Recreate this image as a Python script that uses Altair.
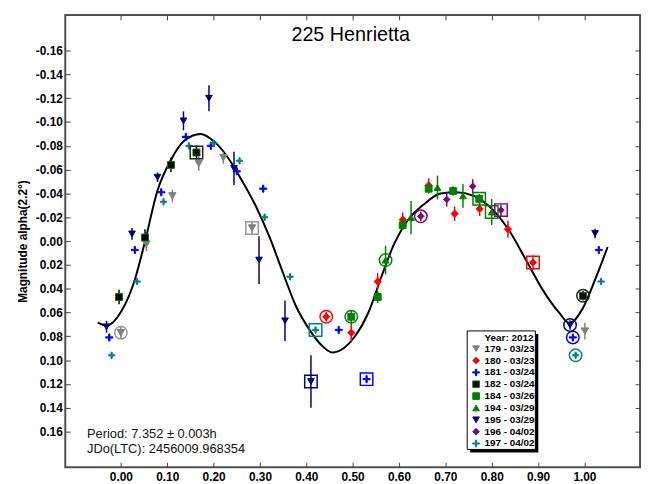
import altair as alt
import pandas as pd

# ---------------- data ----------------
SESSIONS = ["179 - 03/23", "180 - 03/23", "181 - 03/24", "182 - 03/24", "184 - 03/26",
            "194 - 03/29", "195 - 03/29", "196 - 04/02", "197 - 04/02"]
LEGEND_TITLE = "Year: 2012"

P179 = [0.000, 0.055, 0.111, 0.168, 0.221, 0.283, 1.001]
M179 = [0.077, 0.0025, -0.038, -0.065, -0.070, -0.011, 0.0756]
E179 = [0.005, 0.006, 0.005, 0.006, 0.005, 0.006, 0.007]

P180 = [0.443, 0.497, 0.554, 0.608, 0.664, 0.720, 0.774, 0.835, 0.889]
M180 = [0.0636, 0.077, 0.034, -0.018, -0.0467, -0.023, -0.027, -0.010, 0.018]
E180 = [0.004, 0.008, 0.007, 0.006, 0.006, 0.006, 0.006, 0.007, 0.006]

P181 = [-0.025, 0.030, 0.087, 0.140, 0.194, 0.250, 0.307, 0.470, 0.530, 0.975, 1.031]
M181 = [0.081, 0.0075, -0.041, -0.0875, -0.080, -0.0586, -0.044, 0.0747, 0.116, 0.081, 0.0075]
E181 = [0.002] * 11

P182 = [-0.004, 0.052, 0.108, 0.163, 0.997]
M182 = [0.047, -0.003, -0.064, -0.0744, 0.046]
E182 = [0.006, 0.007, 0.006, 0.006, 0.004]

P184 = [0.497, 0.554, 0.608, 0.664, 0.717, 0.773]
M184 = [0.0636, 0.047, -0.0133, -0.044, -0.042, -0.0355]
E184 = [0.005, 0.005, 0.004, 0.004, 0.004, 0.004]

P194 = [0.571, 0.626, 0.683, 0.738, 0.800]
M194 = [0.016, -0.0197, -0.045, -0.038, -0.0244]
E194 = [0.012, 0.014, 0.010, 0.010, 0.011]

P195 = [-0.031, 0.024, 0.079, 0.135, 0.190, 0.244, 0.298, 0.354, 0.410, 0.969, 1.023]
M195 = [0.072, -0.006, -0.0536, -0.101, -0.120, -0.061, 0.016, 0.067, 0.118, 0.0706, -0.0064]
E195 = [0.005, 0.005, 0.004, 0.008, 0.011, 0.014, 0.020, 0.017, 0.022, 0.004, 0.004]

P196 = [0.647, 0.703, 0.759, 0.820]
M196 = [-0.0208, -0.035, -0.046, -0.026]
E196 = [0.004, 0.006, 0.006, 0.005]

P197 = [-0.020, 0.035, 0.092, 0.147, 0.200, 0.256, 0.310, 0.365, 0.420, 0.981, 1.036]
M197 = [0.096, 0.034, -0.033, -0.080, -0.082, -0.0675, -0.020, 0.030, 0.0747, 0.096, 0.034]
E197 = [0.002] * 11

# enclosed (first / last) points
ENC_SESSION = [0, 0, 1, 1, 2, 2, 3, 3, 4, 4, 5, 5, 6, 6, 7, 7, 8, 8]
ENC_PHASE = [0.000, 0.283, 0.443, 0.889, 0.530, 0.975, 0.163, 0.997, 0.497, 0.773,
             0.571, 0.800, 0.410, 0.969, 0.647, 0.820, 0.420, 0.981]
ENC_MAG = [0.077, -0.011, 0.0636, 0.018, 0.116, 0.081, -0.0744, 0.046, 0.0636, -0.0355,
           0.016, -0.0244, 0.118, 0.0706, -0.0208, -0.026, 0.0747, 0.096]
ENC_SHAPE = ["circle", "square", "circle", "square", "square", "circle", "square", "circle",
             "circle", "square", "circle", "square", "square", "circle", "circle", "square",
             "square", "circle"]

# fitted curve
CURVE_PHASE = [-0.050, -0.031, 0.001, 0.030, 0.051, 0.079, 0.107, 0.136, 0.172, 0.200, 0.228,
               0.257, 0.292, 0.321, 0.349, 0.378, 0.406, 0.434, 0.456, 0.484, 0.505, 0.534,
               0.562, 0.590, 0.619, 0.654, 0.690, 0.724, 0.761, 0.803, 0.839, 0.874, 0.910,
               0.945, 0.968, 0.995, 1.023, 1.050]
CURVE_MAG = [0.0686, 0.071, 0.059, 0.0325, 0.002, -0.0425, -0.0675, -0.084, -0.090, -0.084,
             -0.0717, -0.0536, -0.0286, -0.003, 0.026, 0.055, 0.074, 0.088, 0.0936, 0.089,
             0.080, 0.060, 0.030, 0.002, -0.0175, -0.031, -0.040, -0.041, -0.038, -0.026,
             -0.008, 0.016, 0.041, 0.060, 0.069, 0.0575, 0.0325, 0.005]

X_TICKS = [0.0, 0.1, 0.2, 0.3, 0.4, 0.5, 0.6, 0.7, 0.8, 0.9, 1.0]
Y_TICKS = [-0.16, -0.14, -0.12, -0.10, -0.08, -0.06, -0.04, -0.02, 0.0,
           0.02, 0.04, 0.06, 0.08, 0.10, 0.12, 0.14, 0.16]

TITLE = "225 Henrietta"
INFO = ["Period: 7.352 ± 0.003h", "JDo(LTC): 2456009.968354"]

# ---------------- styles ----------------
FILL = ["#808080", "#ff0000", "#0000ff", "#000000", "#008000", "#008000", "#000080", "#800080", "#008080"]
STROKE = ["#808080", "#ff0000", "#0000ff", "#008000", "#008000", "#008000", "#000080", "#800080", "#008080"]
ERRCOL = ["#808080", "#ff0000", "#0000ff", "#000000", "#008000", "#008000", "#000080", "#800080", "#008080"]
ENC_COL = ["#999999", "#ff0000", "#0000ff", "#202020", "#008000", "#008000", "#000080", "#800080", "#008080"]
PLUS = "M-1,-0.17L-0.17,-0.17L-0.17,-1L0.17,-1L0.17,-0.17L1,-0.17L1,0.17L0.17,0.17L0.17,1L-0.17,1L-0.17,0.17L-1,0.17Z"
SHAPES = ["triangle-down", "diamond", PLUS, "square", "square", "triangle-up", "triangle-down", "diamond", PLUS]
SIZES = [55, 42, 140, 30, 55, 55, 55, 42, 140]
STROKE_W = [1, 1, 0, 2.6, 1, 1, 1, 1, 0]

FONT = "Liberation Sans"

rows = []
for s, (P, M, E) in zip(SESSIONS, [(P179, M179, E179), (P180, M180, E180), (P181, M181, E181),
                                   (P182, M182, E182), (P184, M184, E184), (P194, M194, E194),
                                   (P195, M195, E195), (P196, M196, E196), (P197, M197, E197)]):
    for p, m, e in zip(P, M, E):
        rows.append({"session": s, "phase": p, "mag": m, "lo": m - e, "hi": m + e})
df = pd.DataFrame(rows)

enc_df = pd.DataFrame({
    "session": [SESSIONS[i] for i in ENC_SESSION],
    "phase": ENC_PHASE, "mag": ENC_MAG, "shape": ENC_SHAPE,
})
curve_df = pd.DataFrame({"phase": CURVE_PHASE, "mag": CURVE_MAG})
leg_df = pd.DataFrame({"session": SESSIONS, "row": list(range(len(SESSIONS)))})

xscale = alt.Scale(domain=[-0.12, 1.12], nice=False, zero=False)
yscale = alt.Scale(domain=[-0.19, 0.19], nice=False, zero=False, reverse=True)
fill_sc = alt.Scale(domain=SESSIONS, range=FILL)
stroke_sc = alt.Scale(domain=SESSIONS, range=STROKE)
shape_sc = alt.Scale(domain=SESSIONS, range=SHAPES)

LABEL_EXPR = "(datum.value < 0 ? '-' : '') + format(abs(datum.value), '.2f')"
common = dict(domain=False, grid=False, tickSize=5, offset=-5, tickColor="#404040", tickWidth=1,
              labelFont=FONT, labelFontSize=12, labelFontWeight="bold", labelColor="black",
              labelOverlap=False, labelFlush=False)

ax_bottom = alt.Axis(orient="bottom", values=X_TICKS, labelExpr=LABEL_EXPR, labelPadding=4,
                     title=None, **common)
ax_left = alt.Axis(orient="left", values=Y_TICKS, labelExpr=LABEL_EXPR, labelPadding=3,
                   title="Magnitude alpha(2.2°)", titleFont=FONT, titleFontSize=12,
                   titleFontWeight="bold", titleColor="black", titlePadding=6, **common)
ax_top = alt.Axis(orient="top", values=X_TICKS, labels=False, title=None, **common)
ax_right = alt.Axis(orient="right", values=Y_TICKS, labels=False, title=None, **common)

line = alt.Chart(curve_df).mark_line(color="black", strokeWidth=2, interpolate="monotone").encode(
    x=alt.X("phase:Q", scale=xscale, axis=ax_bottom),
    y=alt.Y("mag:Q", scale=yscale, axis=ax_left),
)

errs = alt.Chart(df).mark_rule(strokeWidth=1.5).encode(
    x=alt.X("phase:Q", scale=xscale, axis=None),
    y=alt.Y("lo:Q", scale=yscale, axis=None),
    y2="hi:Q",
    color=alt.Color("session:N", scale=alt.Scale(domain=SESSIONS, range=ERRCOL), legend=None),
)

points = alt.Chart(df).mark_point(filled=True, opacity=1).encode(
    x=alt.X("phase:Q", scale=xscale, axis=ax_top),
    y=alt.Y("mag:Q", scale=yscale, axis=ax_right),
    fill=alt.Fill("session:N", scale=fill_sc, legend=None),
    stroke=alt.Stroke("session:N", scale=stroke_sc, legend=None),
    shape=alt.Shape("session:N", scale=shape_sc, legend=None),
    size=alt.Size("session:N", scale=alt.Scale(domain=SESSIONS, range=SIZES), legend=None),
    strokeWidth=alt.StrokeWidth("session:N", scale=alt.Scale(domain=SESSIONS, range=STROKE_W), legend=None),
)

encl = alt.Chart(enc_df).mark_point(filled=False, strokeWidth=1.5, size=160, opacity=1).encode(
    x=alt.X("phase:Q", scale=xscale, axis=None),
    y=alt.Y("mag:Q", scale=yscale, axis=None),
    shape=alt.Shape("shape:N", scale=alt.Scale(domain=["circle", "square"], range=["circle", "square"]), legend=None),
    color=alt.Color("session:N", scale=alt.Scale(domain=SESSIONS, range=ENC_COL), legend=None),
)

title = alt.Chart(pd.DataFrame({"t": [TITLE]})).mark_text(
    font=FONT, fontSize=20, color="black", align="center", baseline="middle").encode(
    text="t:N", x=alt.value(289), y=alt.value(20))

info1 = alt.Chart(pd.DataFrame({"t": [INFO[0]]})).mark_text(
    font=FONT, fontSize=13, color="#111111", align="left", baseline="middle").encode(
    text="t:N", x=alt.value(22), y=alt.value(424))
info2 = alt.Chart(pd.DataFrame({"t": [INFO[1]]})).mark_text(
    font=FONT, fontSize=13, color="#111111", align="left", baseline="middle").encode(
    text="t:N", x=alt.value(22), y=alt.value(440))

# ---------------- legend box (drawn from the session list) ----------------
one = pd.DataFrame({"a": [0]})
leg_shadow = alt.Chart(one).mark_rect(color="black").encode(
    x=alt.value(410), x2=alt.value(479), y=alt.value(323), y2=alt.value(443))
leg_box = alt.Chart(one).mark_rect(fill="white", stroke="black", strokeWidth=1).encode(
    x=alt.value(407), x2=alt.value(476), y=alt.value(320), y2=alt.value(440))
leg_title = alt.Chart(pd.DataFrame({"t": [LEGEND_TITLE]})).mark_text(
    font=FONT, fontSize=10, fontWeight="bold", color="black", align="right", baseline="middle").encode(
    text="t:N", x=alt.value(474), y=alt.value(327))
leg_sym = alt.Chart(leg_df).transform_calculate(ly="338 + 12 * datum.row").mark_point(
    filled=True, opacity=1, size=45, strokeWidth=1).encode(
    x=alt.value(416),
    y=alt.Y("ly:Q", scale=None, axis=None),
    fill=alt.Fill("session:N", scale=fill_sc, legend=None),
    stroke=alt.Stroke("session:N", scale=stroke_sc, legend=None),
    shape=alt.Shape("session:N", scale=shape_sc, legend=None),
)
leg_lab = alt.Chart(leg_df).transform_calculate(ly="338 + 12 * datum.row").mark_text(
    font=FONT, fontSize=10, fontWeight="bold", color="black", align="left", baseline="middle").encode(
    x=alt.value(424.5),
    y=alt.Y("ly:Q", scale=None, axis=None),
    text="session:N",
)

chart = alt.layer(line, errs, points, encl, title, info1, info2,
                  leg_shadow, leg_box, leg_title, leg_sym, leg_lab).resolve_scale(
    x="independent", y="independent", color="independent", shape="independent",
    size="independent", fill="independent", stroke="independent", strokeWidth="independent"
).resolve_axis(x="independent", y="independent").properties(
    width=582, height=458,
    autosize=alt.AutoSizeParams(type="none"),
    padding={"left": 58, "top": 4, "right": 3, "bottom": 14},
).configure_view(stroke="#505050", strokeWidth=2)

chart.save("out.html", embed_options={"renderer": "svg", "actions": False})
